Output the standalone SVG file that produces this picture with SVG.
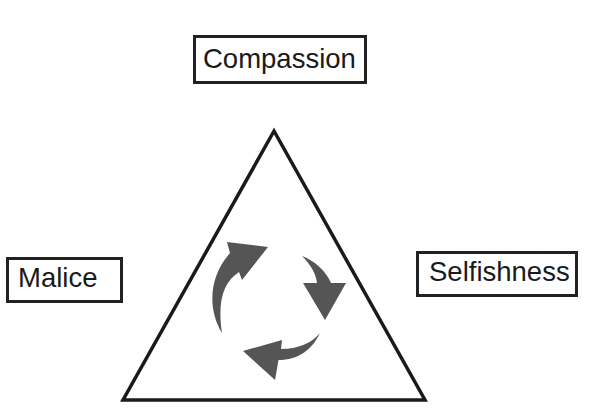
<svg xmlns="http://www.w3.org/2000/svg" width="589" height="420" viewBox="0 0 589 420">
<style>
.box{fill:#fff;stroke:#222;stroke-width:3}
.lbl{font-family:"Liberation Sans",Arial,sans-serif;font-size:27.5px;fill:#1a1a1a}
.tri{fill:none;stroke:#1a1a1a;stroke-width:3.5;stroke-linejoin:miter}
.arr{fill:#555;stroke:none}
</style>
<rect width="589" height="420" fill="#fff"/>
<g id="compassion">
<rect class="box" x="194.5" y="36.5" width="171" height="46"/>
<text class="lbl" x="203" y="68">Compassion</text>
</g>
<g id="malice">
<rect class="box" x="7.5" y="258.5" width="114" height="43"/>
<text class="lbl" x="18" y="287">Malice</text>
</g>
<g id="selfishness">
<rect class="box" x="417.5" y="252.5" width="159" height="43"/>
<text class="lbl" x="429" y="281">Selfishness</text>
</g>
<g id="triangle">
<polygon class="tri" points="274,131 123,400 425,400"/>
</g>
<g id="connectors">
<path class="arr" d="M222,333 C208,310 208,278 230,253 L227,242 L268,247 L242,280 L239,272 C224,282 217,300 222,333 Z"/>
<path class="arr" d="M302,256 C315,261 326,271 331,283 L346,283 L325,320 L303,283 L317,283 C316,273 310,264 302,256 Z"/>
<path class="arr" d="M320,333 C312,350 298,360 278.5,360 L275,380 L243,351 L282,340 L281,349 C298,349 312,343 320,333 Z"/>
</g>
</svg>
